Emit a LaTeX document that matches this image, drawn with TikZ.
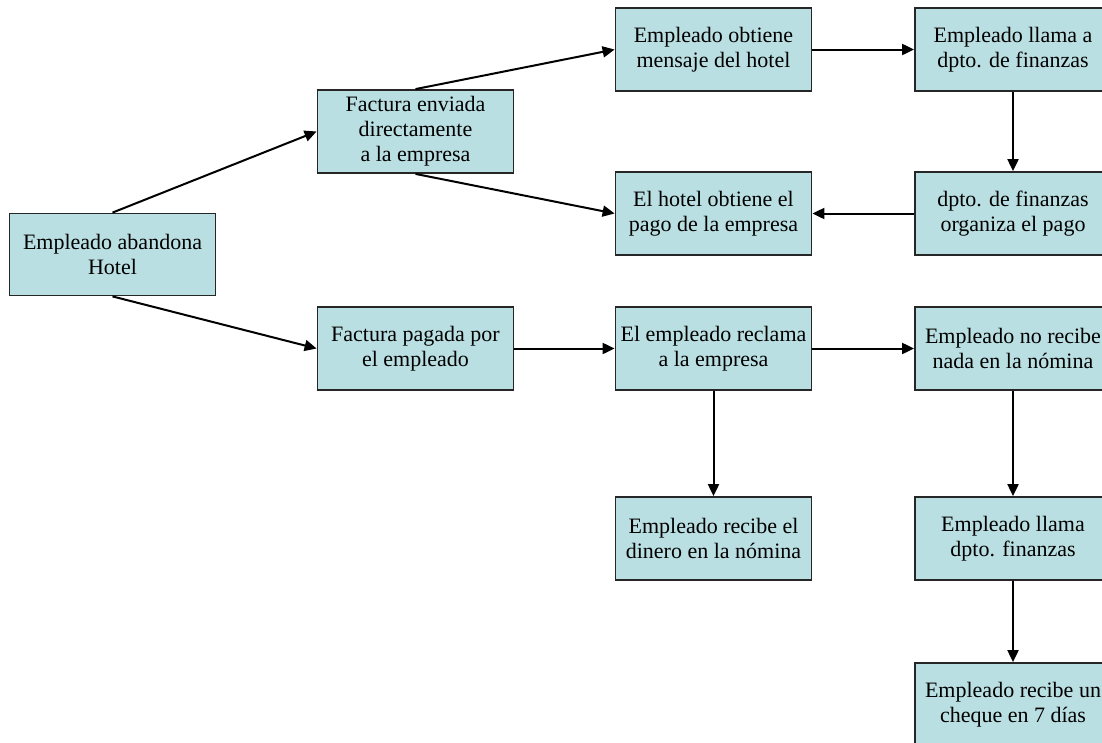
\documentclass[tikz,border=0pt]{standalone}
\usepackage{fontspec}
\setmainfont{Liberation Serif}
\usetikzlibrary{arrows.meta}
\definecolor{boxfill}{RGB}{186,223,226}
\begin{document}
\begin{tikzpicture}[x=1pt,y=1pt,
  flowbox/.style={draw=black!85,line width=1.8pt,fill=boxfill,minimum width=196pt,
    minimum height=83pt,inner sep=0pt,align=center,
    font=\fontsize{22}{25}\selectfont},
  link/.style={line width=2pt,-{Triangle[length=12pt,width=11pt]}}]
\clip (0,0) rectangle (1102,-742);
\fill[white] (0,0) rectangle (1102,-742);

\node[flowbox,minimum width=206pt,minimum height=82pt] (A) at (112.5,-254.5) {Empleado abandona\\Hotel};
\node[flowbox] (B) at (415.5,-131.5) {Factura enviada\\directamente\\a la empresa};
\node[flowbox] (C) at (415.5,-348.5) {Factura pagada por\\el empleado};
\node[flowbox] (D) at (713.5,-49.5) {Empleado obtiene\\mensaje del hotel};
\node[flowbox] (E) at (713.5,-213.5) {El hotel obtiene el\\pago de la empresa};
\node[flowbox] (F) at (1013,-49.5) {Empleado llama a\\dpto. de finanzas};
\node[flowbox] (G) at (1013,-213.5) {dpto. de finanzas\\organiza el pago};
\node[flowbox] (H) at (713.5,-348.5) {El empleado reclama\\a la empresa};
\node[flowbox] (I) at (1013,-348.5) {Empleado no recibe\\nada en la nómina};
\node[flowbox] (J) at (713.5,-538.5) {Empleado recibe el\\dinero en la nómina};
\node[flowbox] (K) at (1013,-538.5) {Empleado llama\\dpto. finanzas};
\node[flowbox] (L) at (1013,-704.5) {Empleado recibe un\\cheque en 7 días};

\draw[link] (A.north) -- (B.west);
\draw[link] (A.south) -- (C.west);
\draw[link] (B.north) -- (D.west);
\draw[link] (B.south) -- (E.west);
\draw[link] (D) -- (F);
\draw[link] (F) -- (G);
\draw[link] (G) -- (E);
\draw[link] (C) -- (H);
\draw[link] (H) -- (I);
\draw[link] (H) -- (J);
\draw[link] (I) -- (K);
\draw[link] (K) -- (L);
\end{tikzpicture}
\end{document}
